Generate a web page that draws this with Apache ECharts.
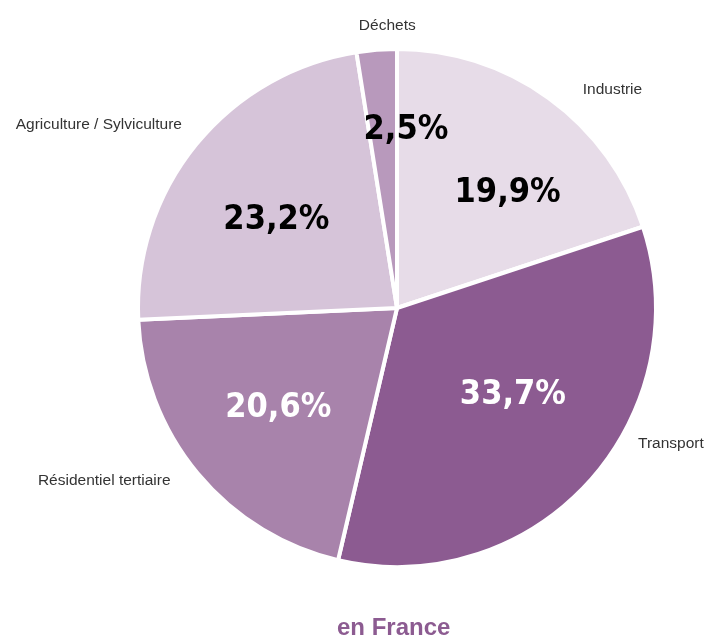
<!DOCTYPE html>
<html>
<head>
<meta charset="utf-8">
<script src="https://cdn.jsdelivr.net/npm/echarts@6/dist/echarts.min.js"></script>
<style>
  html, body { margin: 0; padding: 0; background: #fff; }
  #chart { width: 706px; height: 637px; }
</style>
</head>
<body>
<div id="chart"></div>
<script>
// secteurs, dans l'ordre horaire depuis midi
const sectors = ['Industrie', 'Transport', 'Résidentiel tertiaire', 'Agriculture / Sylviculture', 'Déchets']
const shares = [19.9, 33.7, 20.6, 23.2, 2.5]
const colors = ['#e7dce8', '#8c5b91', '#a883ab', '#d6c4d9', '#b899bc']
const darkSlice = [false, true, true, false, false]

// petits decalages des etiquettes (mise en page seulement)
const nameShift = [[22, 1], [36, -47], [-13, 0], [0, -12], [45, -12]]
const pctShift = [[21, 9], [3, -16], [-1, 2], [-2, 9], [21, -25]]

let chart = echarts.init(document.getElementById('chart'))

function buildData(withColor) {
    return sectors.map((name, i) => ({
        name: name,
        value: shares[i],
        itemStyle: withColor ? { color: colors[i] } : { color: 'rgba(0,0,0,0)', borderWidth: 0 },
        label: withColor ? {} : { color: darkSlice[i] ? '#fff' : '#000' }
    }))
}

let option = {
    animation: false,
    title: {
        text: 'en France',
        left: 332,
        top: 611,
        textStyle: {
            color: '#8c5b91',
            fontFamily: 'Liberation Sans',
            fontWeight: 'bold',
            fontSize: 24
        }
    },
    series: [
        {
            type: 'pie',
            center: [397, 308],
            radius: 259,
            startAngle: 90,
            clockwise: true,
            silent: true,
            itemStyle: { borderColor: '#fff', borderWidth: 4 },
            label: {
                show: true,
                position: 'outside',
                formatter: '{b}',
                color: '#333',
                fontFamily: 'Liberation Sans',
                fontSize: 15.5
            },
            labelLine: { show: false, length: 12, length2: 0 },
            labelLayout: p => ({ dx: nameShift[p.dataIndex][0], dy: nameShift[p.dataIndex][1] }),
            data: buildData(true)
        },
        {
            type: 'pie',
            center: [397, 308],
            radius: 300,
            startAngle: 90,
            clockwise: true,
            silent: true,
            label: {
                show: true,
                position: 'inside',
                formatter: p => String(p.value).replace('.', ',') + '%',
                fontFamily: "'DejaVu Sans Condensed', 'DejaVu Sans', sans-serif",
                fontWeight: 'bold',
                fontSize: 34
            },
            labelLine: { show: false },
            labelLayout: p => ({ dx: pctShift[p.dataIndex][0], dy: pctShift[p.dataIndex][1] }),
            data: buildData(false)
        }
    ]
}
chart.setOption(option)
</script>
</body>
</html>
